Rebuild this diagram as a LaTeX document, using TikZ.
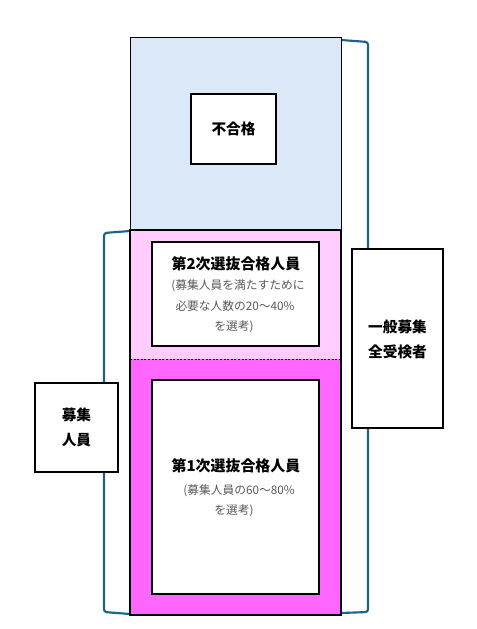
\documentclass[tikz,border=0pt]{standalone}
\usepackage{fontspec}
\setmainfont{Noto Sans CJK JP}
\definecolor{lblue}{RGB}{218,232,247}
\definecolor{lpink}{RGB}{255,204,255}
\definecolor{magen}{RGB}{255,102,255}
\definecolor{subgray}{RGB}{89,89,89}
\definecolor{brk}{RGB}{28,98,138}
\begin{document}
\begin{tikzpicture}[x=0.75pt,y=-0.75pt,
  wbox/.style={draw=black,fill=white,line width=0.9pt,inner sep=0pt},
  bracket/.style={draw=brk,line width=1.6pt,rounded corners=2pt},
  ttl/.style={inner sep=0pt,font=\fontsize{11.2pt}{13pt}\selectfont\bfseries},
  sub/.style={inner sep=0pt,text=subgray,font=\fontsize{8.8pt}{10pt}\selectfont},
  lbl/.style={inner sep=0pt,font=\fontsize{11pt}{13pt}\selectfont\bfseries}]
\useasboundingbox (0,0) rectangle (476,629);
% brackets (behind)
\coordinate (r1) at (341,40);
\coordinate (r2) at (368,42);
\coordinate (r3) at (368,612);
\coordinate (r4) at (341,613);
\draw[bracket] (r1) -- (r2) -- (r3) -- (r4);
\coordinate (l1) at (130,231);
\coordinate (l2) at (104,233);
\coordinate (l3) at (104,612);
\coordinate (l4) at (130,614);
\draw[bracket] (l1) -- (l2) -- (l3) -- (l4);
% areas
\fill[lblue] (130,37) rectangle (341,230);
\draw[line width=0.6pt] (130,230) -- (130,37) -- (341,37) -- (341,230);
\fill[lpink] (130,230) rectangle (341,359);
\fill[magen] (130,359) rectangle (341,615);
\draw[line width=0.7pt,dash pattern=on 1.5pt off 1.2pt] (130,359) -- (341,359);
\draw[line width=1.6pt] (130,230) rectangle (341,615);
% boxes
\node[wbox,minimum width={85*0.75pt},minimum height={70*0.75pt}] (fail) at (233.5,129) {};
\node[lbl] (failt) at (233.5,129) {不合格};
\node[wbox,minimum width={167*0.75pt},minimum height={104*0.75pt}] (sec) at (235.5,294) {};
\node[ttl] (sect) at (236,264) {第2次選抜合格人員};
\node[sub] (sec1) at (238,286) {(募集人員を満たすために};
\node[sub] (sec2) at (235,306) {必要な人数の20～40\%};
\node[sub] (sec3) at (234,327) {を選考)};
\node[wbox,minimum width={167*0.75pt},minimum height={214*0.75pt}] (fst) at (235.5,487) {};
\node[ttl] (fstt) at (236,466) {第1次選抜合格人員};
\node[sub] (fst1) at (239,491) {(募集人員の60～80\%};
\node[sub] (fst2) at (234,511) {を選考)};
\node[wbox,minimum width={91*0.75pt},minimum height={179*0.75pt}] (all) at (397.5,338.5) {};
\node[lbl] (all1) at (397.5,327) {一般募集};
\node[lbl] (all2) at (397.5,352) {全受検者};
\node[wbox,minimum width={83*0.75pt},minimum height={89*0.75pt}] (cap) at (76.5,427.5) {};
\node[lbl] (cap1) at (76.5,415) {募集};
\node[lbl] (cap2) at (76.5,440) {人員};
\end{tikzpicture}
\end{document}
